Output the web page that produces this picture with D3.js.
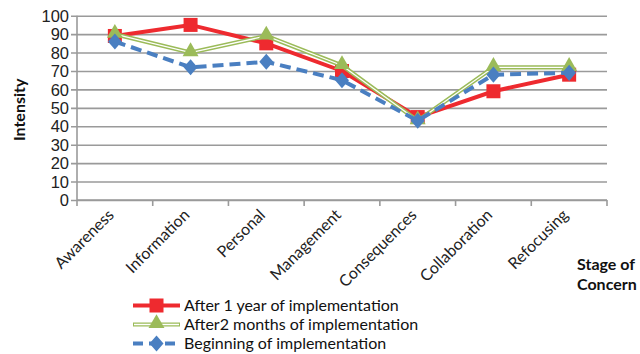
<!DOCTYPE html>
<html>
<head>
<meta charset="utf-8">
<script src="https://cdn.jsdelivr.net/npm/d3@7"></script>
<style>
  html, body { margin: 0; padding: 0; background: #fff; }
  svg { display: block; font-family: Lato, "Open Sans", sans-serif; }
</style>
</head>
<body>
<svg id="chart" width="640" height="354"></svg>
<script>
// Stages of concern and mean intensity per survey wave
const stages = ["Awareness", "Information", "Personal", "Management", "Consequences", "Collaboration", "Refocusing"];
const afterOneYear = [89, 95, 85, 70, 45, 59, 68];
const afterTwoMonths = [90, 80, 89, 73, 43, 72, 72];
const beginning = [86, 72, 75, 65, 43, 68, 69];
const yTicks = [0, 10, 20, 30, 40, 50, 60, 70, 80, 90, 100];
const seriesNames = ["After 1 year of implementation", "After2 months of implementation", "Beginning of implementation"];

const svg = d3.select("#chart");
const plotL = 77, plotR = 607, plotT = 15.7, plotB = 200;

const x = d3.scaleBand().domain(stages).range([plotL, plotR]).padding(0);
const y = d3.scaleLinear().domain([0, 100]).range([plotB, plotT]);

// horizontal gridlines with short outside ticks
const yAxis = d3.axisLeft(y).tickValues(yTicks).tickSize(-(plotR - plotL)).tickSizeOuter(0).tickPadding(4);
const gy = svg.append("g").attr("transform", `translate(${plotL},0)`).call(yAxis);
gy.select(".domain").remove();
gy.selectAll(".tick line").attr("x1", -6).attr("stroke", "#9a9a9a").attr("stroke-width", 1.6);
gy.selectAll(".tick text").attr("font-size", 16.5).attr("fill", "#222").attr("dy", "0.34em").attr("x", -8);
svg.append("line").attr("x1", plotL).attr("x2", plotL).attr("y1", plotT).attr("y2", plotB + 1)
  .attr("stroke", "#9a9a9a").attr("stroke-width", 1.6);

// category axis: ticks at band boundaries
const gx = svg.append("g").attr("transform", `translate(0,${plotB})`);
gx.append("line").attr("x1", plotL).attr("x2", plotR).attr("stroke", "#9a9a9a").attr("stroke-width", 1.6);
const bounds = stages.map(s => x(s)).concat([plotR]);
gx.selectAll("line.tk").data(bounds).join("line").attr("class", "tk")
  .attr("x1", d => d).attr("x2", d => d).attr("y1", 0).attr("y2", 6)
  .attr("stroke", "#9a9a9a").attr("stroke-width", 1.6);
gx.selectAll("text.cat").data(stages).join("text").attr("class", "cat")
  .attr("transform", d => `translate(${x(d) + x.bandwidth() / 2},${16}) rotate(-45)`)
  .attr("text-anchor", "end").attr("font-size", 16).attr("fill", "#222")
  .text(d => d);

// axis titles
svg.append("text").attr("transform", `translate(25,${(plotT + plotB) / 2 + 2}) rotate(-90)`)
  .attr("text-anchor", "middle").attr("font-size", 16).attr("font-weight", "bold").attr("fill", "#111")
  .text("Intensity");
const st = svg.append("text").attr("font-size", 16).attr("font-weight", "bold").attr("fill", "#111");
st.append("tspan").attr("x", 577).attr("y", 270).text("Stage of");
st.append("tspan").attr("x", 577).attr("y", 290).text("Concern");

const cx = d => x(d) + x.bandwidth() / 2;
const line = d3.line().x(d => cx(d.s)).y(d => y(d.v));
const pts = arr => stages.map((s, i) => ({ s, v: arr[i] }));

const red = "#ee2a2f", green = "#9bbb59", blue = "#4a7fc1";

// After 1 year: solid red with squares
const g1 = svg.append("g");
g1.append("path").datum(pts(afterOneYear)).attr("d", line).attr("fill", "none")
  .attr("stroke", red).attr("stroke-width", 4);
g1.selectAll("rect").data(pts(afterOneYear)).join("rect")
  .attr("x", d => cx(d.s) - 7).attr("y", d => y(d.v) - 7).attr("width", 14).attr("height", 14).attr("fill", red);

// After 2 months: double green line with triangles
const g2 = svg.append("g");
g2.append("path").datum(pts(afterTwoMonths)).attr("d", line).attr("fill", "none")
  .attr("stroke", green).attr("stroke-width", 4.2);
g2.append("path").datum(pts(afterTwoMonths)).attr("d", line).attr("fill", "none")
  .attr("stroke", "#fff").attr("stroke-width", 1.3);
const tri = d3.symbol().type(d3.symbolTriangle).size(110);
g2.selectAll("path.m").data(pts(afterTwoMonths)).join("path").attr("class", "m")
  .attr("d", tri).attr("transform", d => `translate(${cx(d.s)},${y(d.v) - 1})`).attr("fill", green);

// Beginning: dashed blue with diamonds
const g3 = svg.append("g");
g3.append("path").datum(pts(beginning)).attr("d", line).attr("fill", "none")
  .attr("stroke", blue).attr("stroke-width", 4).attr("stroke-dasharray", "11,6");
const dia = d3.symbol().type(d3.symbolDiamond).size(75);
g3.selectAll("path.m").data(pts(beginning)).join("path").attr("class", "m")
  .attr("d", dia).attr("transform", d => `translate(${cx(d.s)},${y(d.v)}) scale(1.5,1)`).attr("fill", blue);

// legend
const lg = svg.append("g");
const rows = [305.5, 324.5, 343.5];
const lx1 = 133, lx2 = 180, lm = (lx1 + lx2) / 2;
// row 1
lg.append("line").attr("x1", lx1).attr("x2", lx2).attr("y1", rows[0]).attr("y2", rows[0]).attr("stroke", red).attr("stroke-width", 4);
lg.append("rect").attr("x", lm - 7).attr("y", rows[0] - 7).attr("width", 14).attr("height", 14).attr("fill", red);
// row 2
lg.append("line").attr("x1", lx1).attr("x2", lx2).attr("y1", rows[1]).attr("y2", rows[1]).attr("stroke", green).attr("stroke-width", 4.2);
lg.append("line").attr("x1", lx1 + 1).attr("x2", lx2 - 1).attr("y1", rows[1]).attr("y2", rows[1]).attr("stroke", "#fff").attr("stroke-width", 1.3);
lg.append("path").attr("d", tri).attr("transform", `translate(${lm},${rows[1] - 1})`).attr("fill", green);
// row 3
lg.append("line").attr("x1", lx1).attr("x2", lx2).attr("y1", rows[2]).attr("y2", rows[2]).attr("stroke", blue).attr("stroke-width", 4).attr("stroke-dasharray", "10,6");
lg.append("path").attr("d", dia).attr("transform", `translate(${lm},${rows[2]}) scale(1.5,1)`).attr("fill", blue);
lg.selectAll("text").data(seriesNames).join("text")
  .attr("x", 184).attr("y", (d, i) => rows[i]).attr("dy", "0.35em")
  .attr("font-size", 16).attr("fill", "#111").text(d => d);
</script>
</body>
</html>
